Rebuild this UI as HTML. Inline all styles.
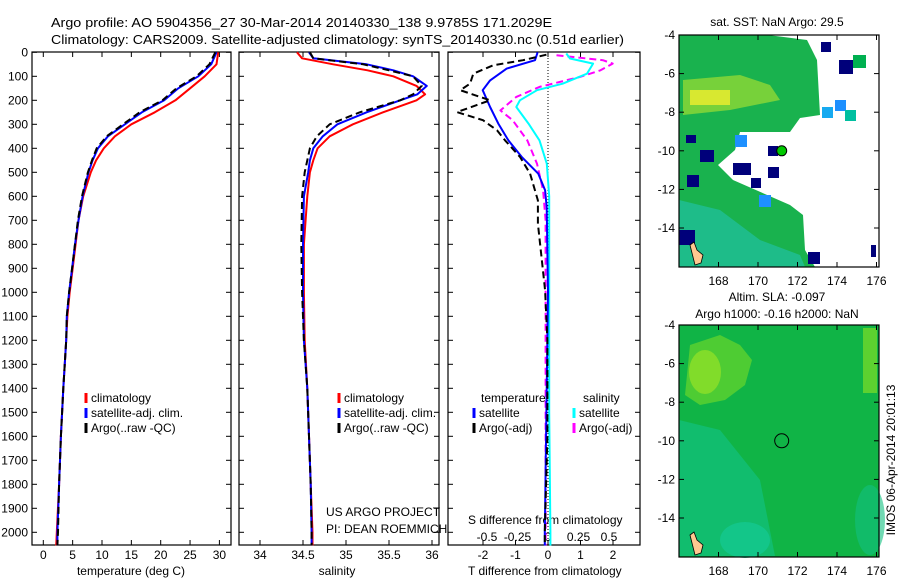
<!DOCTYPE html>
<html><head><meta charset="utf-8"><style>
html,body{margin:0;padding:0;background:#fff;}
svg{display:block;font-family:"Liberation Sans",sans-serif;}
text{fill:#000;}
</style></head><body>
<svg id="fig" width="900" height="580" viewBox="0 0 900 580" xmlns="http://www.w3.org/2000/svg">
<text x="51" y="27" font-size="13" textLength="501" lengthAdjust="spacingAndGlyphs">Argo profile: AO 5904356_27 30-Mar-2014 20140330_138 9.9785S 171.2029E</text>
<text x="51" y="44" font-size="13" textLength="573" lengthAdjust="spacingAndGlyphs">Climatology: CARS2009. Satellite-adjusted climatology: synTS_20140330.nc (0.51d earlier)</text>
<g id="plots"></g>
<g id="maps"></g>
<text transform="translate(895,460) rotate(-90)" text-anchor="middle" font-size="12">IMOS 06-Apr-2014 20:01:13</text>
</svg>
<script>
// ---------- data ----------
const tempDepth = [0,50,100,150,200,250,300,350,400,450,500,600,700,800,900,1000,1100,1200,1400,1600,1800,2000,2055];
const tempArgo  = [29.3,28.3,26.1,22.7,20.3,16.4,13.6,10.8,9.1,8.3,7.6,6.6,5.9,5.4,4.9,4.4,4.0,3.9,3.4,3.0,2.7,2.5,2.4];
const tempSat   = [29.5,28.6,26.4,23.0,20.6,16.8,13.9,11.0,9.3,8.4,7.7,6.7,6.0,5.4,4.9,4.4,4.0,3.9,3.4,3.0,2.7,2.4,2.4];
const tempClim  = [29.8,29.5,27.5,25.0,22.5,19.0,15.0,12.2,10.3,9.0,8.1,6.8,6.0,5.5,5.0,4.5,4.1,3.9,3.4,3.0,2.7,2.3,2.2];

const salDepth = [0,25,50,75,100,140,175,200,250,300,350,400,450,500,600,800,1000,1200,1400,1600,1800,2000,2055];
const salSat   = [34.57,34.62,35.24,35.55,35.78,35.94,35.83,35.63,35.24,34.90,34.73,34.62,34.58,34.56,34.51,34.50,34.50,34.51,34.55,34.57,34.59,34.60,34.60];
const salClim  = [34.43,34.49,34.85,35.25,35.55,35.82,35.92,35.82,35.43,35.08,34.81,34.67,34.62,34.58,34.55,34.51,34.51,34.52,34.55,34.57,34.59,34.61,34.61];
const salArgo  = [34.58,34.62,35.20,35.50,35.78,35.88,35.78,35.63,35.16,34.81,34.66,34.58,34.55,34.52,34.49,34.48,34.49,34.51,34.55,34.57,34.59,34.60,34.60];

const dTsatDepth = [0,4,33,68,117,158,228,297,367,436,506,575,645,1000,1500,2000,2055];
const dTsat      = [-0.33,-0.33,-0.4,-1.27,-1.78,-2.01,-1.78,-1.53,-1.22,-0.81,-0.3,-0.09,-0.04,0,-0.05,-0.1,-0.1];
const dTargoDepth = [10,33,54,89,131,158,200,249,283,325,367,436,506,617,714,853,992,1200,1600,2000,2055];
const dTargo      = [-0.05,-0.77,-1.69,-2.3,-2.4,-2.7,-1.78,-2.8,-2.0,-1.57,-1.32,-0.86,-0.55,-0.31,-0.31,-0.2,-0.09,-0.02,-0.02,-0.1,-0.1];
const dSsatDepth = [5,26,47,89,131,158,200,228,297,367,464,600,1000,1500,2000,2055];
const dSsat      = [0.15,0.18,0.37,0.32,0.12,-0.09,-0.23,-0.26,-0.16,-0.07,-0.01,0.01,0.01,0.01,0.02,0.02];
const dSargoDepth = [12,33,47,75,103,144,186,242,283,367,464,575,700,1000,1500,2000,2055];
const dSargo      = [0.07,0.45,0.53,0.43,0.26,-0.07,-0.26,-0.39,-0.29,-0.17,-0.09,-0.04,-0.02,-0.02,-0.02,-0.02,-0.02];

const depthTicks = [0,100,200,300,400,500,600,700,800,900,1000,1100,1200,1300,1400,1500,1600,1700,1800,1900,2000];
const tempTicks = [0,5,10,15,20,25,30];
const salTicks = [34,34.5,35,35.5,36];
const dTTicks = [-2,-1,0,1,2];
const dSTicks = [-0.5,-0.25,0,0.25,0.5];
const lonTicks = [168,170,172,174,176];
const latTicks = [-4,-6,-8,-10,-12,-14];

// ---------- helpers ----------
const NS='http://www.w3.org/2000/svg';
function mk(tag, attrs, parent){const e=document.createElementNS(NS,tag);for(const k in attrs)e.setAttribute(k,attrs[k]);parent.appendChild(e);return e;}
const TOP=52, BOT=545;
const yD = d => 52.3 + d*0.24;
const P1={l:32,r:231}, P2={l:239,r:439}, P3={l:448,r:640};
const xT = t => 43.3 + t*5.87;
const xS = s => 260 + (s-34)*86;
const xDT = t => 548 + t*32.5;
const xDS = s => 548 + s*122;
const plots=document.getElementById('plots');

function frame(p,name){
  const r=mk('rect',{x:p.l,y:TOP,width:p.r-p.l,height:BOT-TOP,fill:'none',stroke:'#000','stroke-width':1.2},plots);
  
  
  depthTicks.forEach(d=>{
    mk('line',{x1:p.l,x2:p.l+5,y1:yD(d),y2:yD(d),stroke:'#000'},plots);
    mk('line',{x1:p.r-5,x2:p.r,y1:yD(d),y2:yD(d),stroke:'#000'},plots);
  });
}
function xticks(p,ticks,fx,labelY){
  const g=mk('g',{},plots);
  
  
  ticks.forEach(t=>{
    const x=fx(t);
    mk('line',{x1:x,x2:x,y1:BOT,y2:BOT-5,stroke:'#000'},g);
    mk('line',{x1:x,x2:x,y1:TOP,y2:TOP+5,stroke:'#000'},g);
    const tx=mk('text',{x:x,y:labelY,'font-size':12,'text-anchor':'middle'},g);
    tx.textContent=String(t);
  });
}
function line(xs,ds,fx,color,dash,name){
  const pts=xs.map((v,i)=>fx(v).toFixed(1)+','+yD(ds[i]).toFixed(1)).join(' ');
  const pl=mk('polyline',{points:pts,fill:'none',stroke:color,'stroke-width':2,'stroke-linejoin':'round'},plots);
  if(dash) pl.setAttribute('stroke-dasharray',dash);
  
  
}
function text(x,y,s,name,size,anchor){
  const t=mk('text',{x:x,y:y,'font-size':size||12,'text-anchor':anchor||'start'},plots);
  t.textContent=s;
  
  
  return t;
}
function legendEntry(x,y,color,label,name){
  mk('line',{x1:x,x2:x,y1:y-9,y2:y+1,stroke:color,'stroke-width':3},plots);
  const t=text(x+5,y,label,name);
}

// depth labels
depthTicks.forEach(d=>{
  const t=mk('text',{x:28,y:yD(d)+4,'font-size':12,'text-anchor':'end'},plots);
  t.textContent=String(d);
  
  
});

// panel 1
frame(P1,'temperature-panel');
xticks(P1,tempTicks,xT,559);
line(tempClim,tempDepth,xT,'#ff0000',null,'temp-climatology-line');
line(tempSat,tempDepth,xT,'#0000ff',null,'temp-satellite-line');
line(tempArgo,tempDepth,xT,'#000000','7,4','temp-argo-line');
text(131,575,'temperature (deg C)','x-axis-title-temperature',12,'middle');
legendEntry(86,402,'#ff0000','climatology','legend-climatology');
legendEntry(86,417,'#0000ff','satellite-adj. clim.','legend-satellite');
legendEntry(86,432,'#000000','Argo(..raw -QC)','legend-argo');

// panel 2
frame(P2,'salinity-panel');
xticks(P2,salTicks,xS,559);
line(salClim,salDepth,xS,'#ff0000',null,'sal-climatology-line');
line(salSat,salDepth,xS,'#0000ff',null,'sal-satellite-line');
line(salArgo,salDepth,xS,'#000000','7,4','sal-argo-line');
text(337,575,'salinity','x-axis-title-salinity',12,'middle');
legendEntry(339,402,'#ff0000','climatology','legend-climatology-2');
legendEntry(339,417,'#0000ff','satellite-adj. clim.','legend-satellite-2');
legendEntry(339,432,'#000000','Argo(..raw -QC)','legend-argo-2');
text(326,516,'US ARGO PROJECT','credit-project');
text(326,533,'PI: DEAN ROEMMICH','credit-pi');

// panel 3
frame(P3,'difference-panel');
mk('line',{x1:548,x2:548,y1:TOP,y2:BOT,stroke:'#000','stroke-dasharray':'1,2'},plots);
dTTicks.forEach(t=>{const x=xDT(t);
  mk('line',{x1:x,x2:x,y1:BOT,y2:BOT-5,stroke:'#000'},plots);
  mk('line',{x1:x,x2:x,y1:TOP,y2:TOP+5,stroke:'#000'},plots);
  text(x,559,String(t),'dT-tick-label',12,'middle');});
dSTicks.forEach(t=>{text(xDS(t),541,String(t),'dS-tick-label',12,'middle');});
text(468,524,'S difference from climatology','dS-axis-title');
text(468,575,'T difference from climatology','dT-axis-title');
line(dSargo,dSargoDepth,xDS,'#ff00ff','7,4','dS-argo-line');
line(dSsat,dSsatDepth,xDS,'#00ffff',null,'dS-satellite-line');
line(dTsat,dTsatDepth,xDT,'#0000ff',null,'dT-satellite-line');
line(dTargo,dTargoDepth,xDT,'#000000','7,4','dT-argo-line');
text(481,402,'temperature','legend-title-temperature');
text(583,402,'salinity','legend-title-salinity');
legendEntry(474,417,'#0000ff','satellite','legend-t-satellite');
legendEntry(474,432,'#000000','Argo(-adj)','legend-t-argo');
legendEntry(574,417,'#00ffff','satellite','legend-s-satellite');
legendEntry(574,432,'#ff00ff','Argo(-adj)','legend-s-argo');

// ---------- maps ----------
const maps=document.getElementById('maps');
const lx = lon => 679 + (lon-166)*19.75;
function drawMapFrame(top,name){
  const g=mk('g',{},maps);
  
  
  const ly = lat => top + (-4-lat)*19.3;
  return {g,ly};
}
function mapAxes(g,top,ly){
  mk('rect',{x:679,y:top,width:200,height:232,fill:'none',stroke:'#000','stroke-width':1.2},g);
  latTicks.forEach(l=>{const y=ly(l);
    mk('line',{x1:679,x2:684,y1:y,y2:y,stroke:'#000'},g);
    mk('line',{x1:874,x2:879,y1:y,y2:y,stroke:'#000'},g);
    const t=mk('text',{x:675,y:y+4,'font-size':12,'text-anchor':'end'},g);t.textContent=String(l);});
  lonTicks.forEach(l=>{const x=lx(l);
    mk('line',{x1:x,x2:x,y1:top,y2:top+5,stroke:'#000'},g);
    mk('line',{x1:x,x2:x,y1:top+227,y2:top+232,stroke:'#000'},g);
    const t=mk('text',{x:x,y:top+250,'font-size':12,'text-anchor':'middle'},g);t.textContent=String(l);});
}
// top SST map
(function(){
  const top=35; const {g,ly}=drawMapFrame(top,'sst-map');
  mk('polygon',{points:'679,35 768,35 807,40 817,60 820,115 800,118 790,132 740,132 735,150 718,165 733,180 790,205 803,215 805,250 815,267 679,267',fill:'#19b24e'},g);
  mk('polygon',{points:'683,80 740,75 770,85 780,100 730,110 683,115',fill:'#8fd836','opacity':0.8},g);
  mk('rect',{x:690,y:90,width:40,height:15,fill:'#d8e830'},g);
  mk('polygon',{points:'679,200 720,210 760,240 800,255 805,267 679,267',fill:'#22c3b0','opacity':0.6},g);
  [[839,60,14,14,'#00007a'],[852,60,8,8,'#00007a'],[821,42,10,10,'#00007a'],[853,55,13,13,'#00b050'],[822,107,11,11,'#17aaf0'],[835,100,11,11,'#1e90ff'],[845,110,11,11,'#00bfa0'],[768,146,10,10,'#00007a'],[768,167,11,11,'#00007a'],[751,178,10,10,'#00007a'],[759,195,12,12,'#1e90ff'],[733,163,18,12,'#00007a'],[700,150,14,12,'#00007a'],[687,175,12,12,'#00007a'],[735,135,12,12,'#1e90ff'],[808,252,12,12,'#00007a'],[871,245,5,12,'#00007a'],[686,135,10,8,'#00007a'],[679,230,16,15,'#00007a']].forEach(r=>{
    mk('rect',{x:r[0],y:r[1],width:r[2],height:r[3],fill:r[4]},g);});
  mk('path',{d:'M690,245 l4,-3 l3,8 l6,5 l-2,8 l-6,2 z',fill:'#ffc890',stroke:'#000','stroke-width':0.8},g);
  mk('circle',{cx:lx(171.2),cy:ly(-10),r:5,fill:'#00c800',stroke:'#000','stroke-width':1},g);
  mapAxes(g,top,ly);
  const t=mk('text',{x:777,y:26,'font-size':12,'text-anchor':'middle'},g);t.textContent='sat. SST: NaN Argo: 29.5';
})();
// bottom SLA map
(function(){
  const top=325; const {g,ly}=drawMapFrame(top,'sla-map');
  mk('rect',{x:679,y:top,width:200,height:232,fill:'#10b446'},g);
  mk('polygon',{points:'690,345 720,335 740,345 752,360 745,385 725,400 700,405 685,395',fill:'#5ed22e','opacity':0.8},g);
  mk('ellipse',{cx:705,cy:372,rx:16,ry:22,fill:'#8ee028','opacity':0.8},g);
  mk('rect',{x:863,y:328,width:14,height:65,fill:'#70d82a','opacity':0.8},g);
  mk('polygon',{points:'679,420 720,430 760,480 775,556 679,556',fill:'#12bf78','opacity':0.8},g);
  mk('ellipse',{cx:745,cy:540,rx:25,ry:18,fill:'#14c890','opacity':0.8},g);
  mk('ellipse',{cx:870,cy:520,rx:15,ry:35,fill:'#12c080','opacity':0.6},g);
  mk('path',{d:'M690,535 l4,-3 l3,8 l6,5 l-2,8 l-6,2 z',fill:'#ffc890',stroke:'#000','stroke-width':0.8},g);
  mk('circle',{cx:lx(171.2),cy:ly(-10),r:7,fill:'none',stroke:'#000','stroke-width':1},g);
  mapAxes(g,top,ly);
  const t1=mk('text',{x:777,y:301,'font-size':12,'text-anchor':'middle'},g);t1.textContent='Altim. SLA: -0.097';
  const t2=mk('text',{x:777,y:318,'font-size':12,'text-anchor':'middle'},g);t2.textContent='Argo h1000: -0.16 h2000: NaN';
})();
</script>
</body></html>
